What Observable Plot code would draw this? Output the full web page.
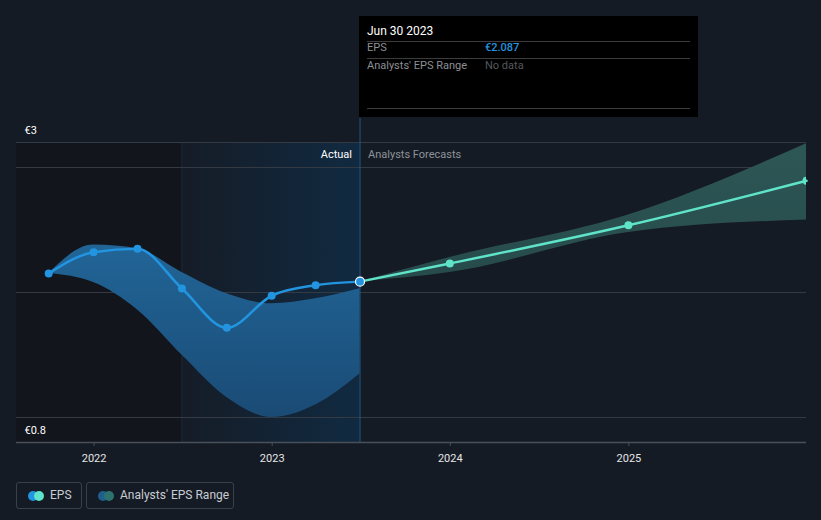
<!DOCTYPE html>
<html><head><meta charset="utf-8">
<script src="https://cdn.jsdelivr.net/npm/d3@7"></script>
<script src="https://cdn.jsdelivr.net/npm/@observablehq/plot@0.6"></script>
<style>
body{margin:0;background:#151b25;font-family:Roboto,sans-serif;width:821px;height:520px;overflow:hidden;position:relative}
#chart{position:absolute;left:0;top:0}
.tip{position:absolute;left:359px;top:16px;width:339px;height:101px;background:#000}
.tip .t{position:absolute;font-size:11px;line-height:12px;white-space:nowrap}
.tip .r{position:absolute;left:8px;width:323px;height:1px;background:#3c3c3c}
.leg{position:absolute;top:482px;height:27px;border:1px solid #3a404b;border-radius:3px;box-sizing:border-box;color:#c9ccd1;font-size:12px;line-height:25px}
.leg .d{position:absolute;top:8px;width:10px;height:10px;border-radius:50%}
.leg span.l{position:absolute;white-space:nowrap}
</style></head><body>
<div id="chart"></div>
<div class="tip">
  <div class="t" style="left:8px;top:9px;color:#fff;font-size:12px">Jun 30 2023</div>
  <div class="r" style="top:25px"></div>
  <div class="t" style="left:8px;top:26px;color:#8c8f94">EPS</div>
  <div class="t" style="left:126px;top:26px;color:#2394df;font-weight:500">€2.087</div>
  <div class="r" style="top:42px"></div>
  <div class="t" style="left:8px;top:44px;color:#8c8f94">Analysts' EPS Range</div>
  <div class="t" style="left:126px;top:44px;color:#55585d">No data</div>
  <div class="r" style="top:92px"></div>
</div>
<div class="leg" style="left:16px;width:66px">
  <div class="d" style="left:11px;background:#2394df"></div>
  <div class="d" style="left:17px;background:#5fe3c9"></div>
  <span class="l" style="left:33px">EPS</span>
</div>
<div class="leg" style="left:86px;width:148px">
  <div class="d" style="left:11px;background:#1f5f8f"></div>
  <div class="d" style="left:17px;background:#2e7270"></div>
  <span class="l" style="left:33px">Analysts' EPS Range</span>
</div>
<script>
// ---- data ----
const actualDates = ["2021-09-30","2021-12-31","2022-03-31","2022-06-30","2022-09-30","2022-12-31","2023-03-31","2023-06-30"];
const actualEps   = [2.152, 2.322, 2.350, 2.032, 1.718, 1.974, 2.058, 2.087];
const actualLow   = [2.152, 2.08, 1.86, 1.50, 1.16, 1.00, 1.10, 1.35];
const actualHigh  = [2.152, 2.38, 2.35, 2.16, 1.99, 1.91, 1.95, 2.03];
const forecastDates = ["2023-06-30","2023-12-31","2024-12-31","2025-12-31"];
const forecastEps   = [2.087, 2.232, 2.538, 2.894];
const forecastLow   = [2.087, 2.16, 2.48, 2.58];
const forecastHigh  = [2.087, 2.28, 2.62, 3.19];
const xTicks = ["2022-01-01","2023-01-01","2024-01-01","2025-01-01"];
const yLabels = ["€3", "€0.8"];
const gridValues = [1, 2, 3, 3.2];
const sectionLabels = ["Actual", "Analysts Forecasts"];
const todayDate = "2023-06-30";
const pastYearStart = "2022-06-30";
const domainX = ["2021-07-26", "2025-12-31"];
const domainY = [0.8, 3.2];

const P = d => d3.utcParse("%Y-%m-%d")(d);
const actual = actualDates.map((d,i)=>({date:P(d), eps:actualEps[i], lo:actualLow[i], hi:actualHigh[i]}));
const forecast = forecastDates.map((d,i)=>({date:P(d), eps:forecastEps[i], lo:forecastLow[i], hi:forecastHigh[i]}));
const today = P(todayDate);

const chart = Plot.plot({
  width: 821, height: 470,
  marginLeft: 16, marginRight: 15, marginTop: 142, marginBottom: 28,
  style: {background: "transparent", fontFamily: "Roboto, sans-serif", fontSize: "11px", color: "#e6e6e6", overflow: "visible"},
  x: {type: "utc", domain: domainX.map(P)},
  y: {domain: domainY, axis: null},
  marks: [
    Plot.rect([0], {x1: P(domainX[0]), x2: P(pastYearStart), fill: "#12151c"}),
    Plot.rect([0], {x1: P(pastYearStart), x2: today, fill: "url(#pastGrad)"}),
    Plot.ruleX([P(pastYearStart)], {stroke: "#1c2a38", strokeWidth: 1}),
    Plot.ruleY(gridValues, {stroke: "#343a44", strokeWidth: 1}),
    Plot.areaY(actual, {x: "date", y1: "lo", y2: "hi", fill: "url(#bandBlue)", curve: "monotone-x"}),
    Plot.areaY(forecast, {x: "date", y1: "lo", y2: "hi", fill: "url(#bandTeal)", curve: "monotone-x"}),
    Plot.ruleX([today], {y1: 0.8, y2: 3.392, stroke: "#1f5a86", strokeWidth: 1}),
    Plot.ruleY([0.8], {stroke: "#4a505a", strokeWidth: 1.5}),
    Plot.axisX({ticks: xTicks.map(P), tickFormat: "%Y", tickSize: 4, tickPadding: 8, stroke: "#4a505a", fill: "#e6e6e6", label: null}),
    Plot.line(actual, {x: "date", y: "eps", stroke: "#2394df", strokeWidth: 2.5, curve: "monotone-x"}),
    Plot.line(forecast, {x: "date", y: "eps", stroke: "#5fe3c9", strokeWidth: 2.5, curve: "monotone-x"}),
    Plot.dot(actual.slice(0,-1), {x: "date", y: "eps", r: 4, fill: "#2394df"}),
    Plot.dot(forecast.slice(1), {x: "date", y: "eps", r: 4, fill: "#5fe3c9", clip: "frame"}),
    Plot.dot(actual.slice(-1), {x: "date", y: "eps", r: 4.5, fill: "#2394df", stroke: "#fff", strokeWidth: 1.2}),
    Plot.text([sectionLabels[0]], {x: today, y: 3.104, dx: -8, textAnchor: "end", fill: "#ffffff", fontSize: 11}),
    Plot.text([sectionLabels[1]], {x: today, y: 3.104, dx: 8, textAnchor: "start", fill: "#8e9297", fontSize: 11}),
    Plot.text([yLabels[0]], {frameAnchor: "top-left", dx: 8, dy: -12, lineAnchor: "middle", textAnchor: "start", fill: "#ffffff", fontSize: 11}),
    Plot.text([yLabels[1]], {frameAnchor: "bottom-left", dx: 8, dy: -12, lineAnchor: "middle", textAnchor: "start", fill: "#ffffff", fontSize: 11})
  ]
});
const defs = `<defs>
<linearGradient id="pastGrad" x1="0" x2="1" y1="0" y2="0"><stop offset="0" stop-color="#151c27"/><stop offset="1" stop-color="#112a41"/></linearGradient>
<linearGradient id="bandBlue" x1="0" x2="0" y1="0" y2="1"><stop offset="0" stop-color="#216597"/><stop offset="1" stop-color="#1a4b75"/></linearGradient>
<linearGradient id="bandTeal" x1="0" x2="0" y1="0" y2="1"><stop offset="0" stop-color="#2d5756"/><stop offset="1" stop-color="#274a4b"/></linearGradient>
</defs>`;
chart.insertAdjacentHTML("afterbegin", defs);
document.getElementById("chart").appendChild(chart);
</script>
</body></html>
